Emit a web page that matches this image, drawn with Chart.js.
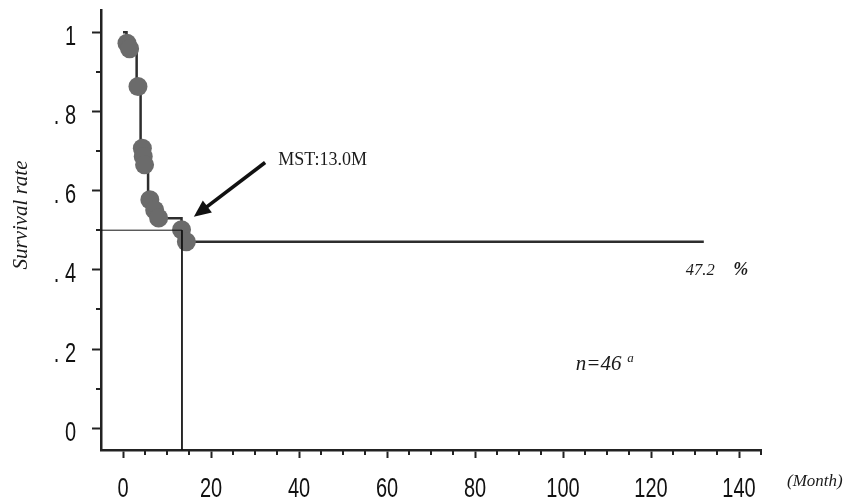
<!DOCTYPE html>
<html><head><meta charset="utf-8">
<script src="https://cdn.jsdelivr.net/npm/chart.js@4/dist/chart.umd.min.js"></script>
<style>html,body{margin:0;padding:0;background:#fff;} #wrap{width:848px;height:499px;}</style>
</head><body>
<div id="wrap"><canvas id="c" width="848" height="499"></canvas></div>
<script>
// Kaplan-Meier step curve (months, survival rate)
const kmMonths   = [0, 0.8, 1.4, 3.1, 4.0, 4.6, 5.0, 5.7, 6.8, 7.9, 13.3, 14.3, 132];
const kmSurvival = [1.0, 0.978, 0.957, 0.870, 0.717, 0.696, 0.674, 0.587, 0.555, 0.530, 0.504, 0.471, 0.471];
// circle markers on the curve
const markMonths   = [0.9, 1.5, 3.4, 4.4, 4.6, 4.9, 6.1, 7.2, 8.1, 13.3, 14.4];
const markSurvival = [0.972, 0.958, 0.863, 0.707, 0.686, 0.665, 0.577, 0.551, 0.531, 0.501, 0.471];
// median survival time guide
const mstMonth = 13.4;
const mstSurvival = 0.5;
// axes
const xMin = -5, xMax = 145, yMin = -0.055, yMax = 1.056;
const xTickValues = [0, 20, 40, 60, 80, 100, 120, 140];
const xTickLabels = ['0', '20', '40', '60', '80', '100', '120', '140'];
const yTickValues = [0, 0.2, 0.4, 0.6, 0.8, 1];
const yTickLabels = ['0', '. 2', '. 4', '. 6', '. 8', '1'];
const minorXStep = 5, minorYStep = 0.1;
// annotation texts
const mstText = 'MST:13.0M';
const rateText = '47.2';
const pctText = '%';
const nText = 'n=46';
const supText = 'a';
const yTitle = 'Survival rate';
const xTitle = '(Month)';

const AXIS = '#222';
const SERIF = '"Liberation Serif","Times New Roman",serif';
const SANS = '"Liberation Sans",Arial,sans-serif';

const minorTicks = {
  id: 'minorTicks',
  afterDraw(chart) {
    const {ctx, scales: {x, y}, chartArea: a} = chart;
    ctx.save();
    ctx.strokeStyle = AXIS; ctx.lineWidth = 2;
    for (let v = Math.ceil(xMin / minorXStep) * minorXStep; v <= xMax; v += minorXStep) {
      if (v < 0 || xTickValues.includes(v)) continue;
      const px = Math.round(x.getPixelForValue(v));
      ctx.beginPath(); ctx.moveTo(px, a.bottom); ctx.lineTo(px, a.bottom + 5); ctx.stroke();
    }
    for (let i = 1; i <= 9; i += 2) {
      const py = Math.round(y.getPixelForValue(i * minorYStep));
      ctx.beginPath(); ctx.moveTo(a.left - 5, py); ctx.lineTo(a.left, py); ctx.stroke();
    }
    ctx.restore();
  }
};

// condensed tick labels (drawn from the scales)
const tickLabels = {
  id: 'tickLabels',
  afterDraw(chart) {
    const {ctx, scales: {x, y}} = chart;
    ctx.save();
    ctx.fillStyle = '#111';
    ctx.font = '27px ' + SANS;
    ctx.textBaseline = 'alphabetic';
    xTickValues.forEach((v, i) => {
      ctx.save();
      ctx.translate(x.getPixelForValue(v), 497);
      ctx.scale(0.74, 1);
      ctx.textAlign = 'center';
      ctx.fillText(xTickLabels[i], 0, 0);
      ctx.restore();
    });
    yTickValues.forEach((v, i) => {
      ctx.save();
      ctx.translate(76, y.getPixelForValue(v) + 12.5);
      ctx.scale(0.74, 1);
      ctx.textAlign = 'right';
      ctx.fillText(yTickLabels[i], 0, 0);
      ctx.restore();
    });
    ctx.restore();
  }
};

const annotations = {
  id: 'annotations',
  afterDraw(chart) {
    const {ctx, scales: {x, y}} = chart;
    const X = v => x.getPixelForValue(v), Y = v => y.getPixelForValue(v);
    ctx.save();
    // arrow pointing to the median
    const tx = X(32.3), ty = Y(0.671), hx = X(16.1), hy = Y(0.534);
    const ang = Math.atan2(hy - ty, hx - tx);
    const hl = 17, hw = 7.5;
    const bx = hx - hl * Math.cos(ang), by = hy - hl * Math.sin(ang);
    ctx.strokeStyle = '#111'; ctx.fillStyle = '#111'; ctx.lineWidth = 3.6;
    ctx.beginPath(); ctx.moveTo(tx, ty); ctx.lineTo(bx + 2 * Math.cos(ang), by + 2 * Math.sin(ang)); ctx.stroke();
    ctx.beginPath();
    ctx.moveTo(hx, hy);
    ctx.lineTo(bx + hw * Math.sin(ang), by - hw * Math.cos(ang));
    ctx.lineTo(bx - hw * Math.sin(ang), by + hw * Math.cos(ang));
    ctx.closePath(); ctx.fill();

    ctx.fillStyle = '#1a1a1a';
    ctx.textBaseline = 'alphabetic'; ctx.textAlign = 'left';
    ctx.font = '18px ' + SERIF;
    ctx.fillText(mstText, X(35.3), Y(0.665));
    ctx.font = 'italic 16.5px ' + SERIF;
    ctx.fillText(rateText, X(127.9), Y(0.387));
    ctx.font = 'italic bold 18px ' + SERIF;
    ctx.fillText(pctText, X(138.7), Y(0.387));
    ctx.font = 'italic 21px ' + SERIF;
    ctx.fillText(nText, X(102.9), Y(0.147));
    ctx.font = 'italic 13px ' + SERIF;
    ctx.fillText(supText, X(114.6), Y(0.168));

    // axis titles
    ctx.font = 'italic 17px ' + SERIF;
    ctx.fillText(xTitle, 787, 486);
    ctx.translate(27, 215);
    ctx.rotate(-Math.PI / 2);
    ctx.textAlign = 'center';
    ctx.font = 'italic 21px ' + SERIF;
    ctx.fillText(yTitle, 0, 0);
    ctx.restore();
  }
};

new Chart(document.getElementById('c'), {
  type: 'line',
  data: {
    datasets: [
      {
        label: 'MST',
        data: [{x: xMin, y: mstSurvival}, {x: mstMonth, y: mstSurvival}, {x: mstMonth, y: yMin}],
        borderColor: '#111', borderWidth: 1, pointRadius: 0, fill: false
      },
      {
        label: 'marks',
        data: markMonths.map((m, i) => ({x: m, y: markSurvival[i]})),
        showLine: false, pointRadius: 9.5, pointHoverRadius: 9.5,
        pointBackgroundColor: '#6b6b6b', pointBorderWidth: 0, pointBorderColor: '#6b6b6b'
      },
      {
        label: 'KM',
        data: kmMonths.map((m, i) => ({x: m, y: kmSurvival[i]})),
        stepped: 'before', borderColor: '#2e2e2e', borderWidth: 2.5, pointRadius: 0, fill: false
      }
    ]
  },
  options: {
    responsive: false, animation: false, devicePixelRatio: 1, events: [],
    layout: {padding: {left: 0, right: 87, top: 10, bottom: 0}},
    plugins: {legend: {display: false}, tooltip: {enabled: false}},
    scales: {
      x: {
        type: 'linear', min: xMin, max: xMax,
        afterFit(s) { s.height = 49; s.paddingLeft = 0; s.paddingRight = 0; },
        afterBuildTicks(s) { s.ticks = xTickValues.map(v => ({value: v})); },
        ticks: {display: false, autoSkip: false},
        grid: {drawOnChartArea: false, tickLength: 8, tickWidth: 2, tickColor: AXIS},
        border: {width: 2.5, color: AXIS}
      },
      y: {
        type: 'linear', min: yMin, max: yMax,
        afterFit(s) { s.width = 101; s.paddingTop = 0; s.paddingBottom = 0; },
        afterBuildTicks(s) { s.ticks = yTickValues.map(v => ({value: v})); },
        ticks: {display: false, autoSkip: false},
        grid: {drawOnChartArea: false, tickLength: 9, tickWidth: 2, tickColor: AXIS},
        border: {width: 2.5, color: AXIS}
      }
    }
  },
  plugins: [minorTicks, tickLabels, annotations]
});
</script>
</body></html>
